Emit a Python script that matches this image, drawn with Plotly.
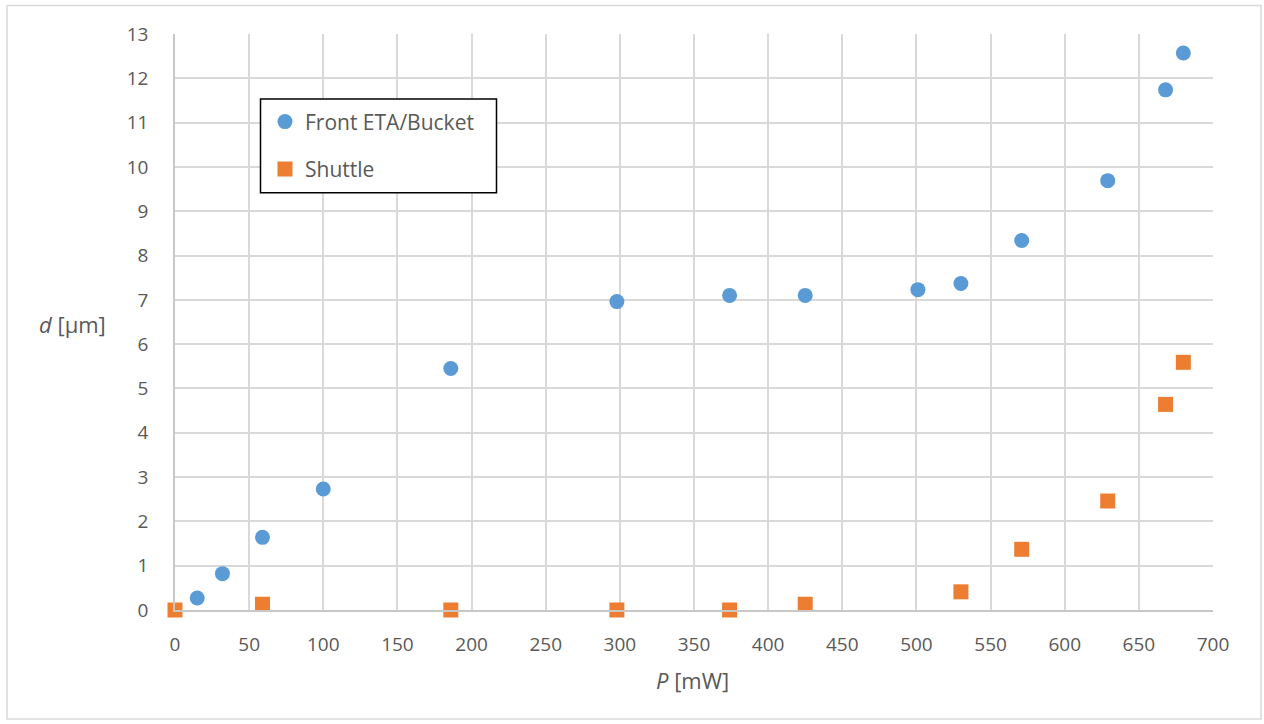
import plotly.graph_objects as go

# Measured displacement vs. laser power
p_front = [15, 32, 59, 100, 186, 298, 374, 425, 501, 530, 571, 629, 668, 680]
d_front = [0.27, 0.82, 1.64, 2.73, 5.45, 6.96, 7.10, 7.10, 7.23, 7.37, 8.34, 9.69, 11.74, 12.57]

p_shuttle = [0, 59, 186, 298, 374, 425, 530, 571, 629, 668, 680]
d_shuttle = [0.0, 0.13, 0.0, 0.0, 0.0, 0.13, 0.41, 1.37, 2.46, 4.64, 5.59]

x_ticks = list(range(0, 701, 50))
y_ticks = list(range(0, 14, 1))

FONT = "Open Sans"
TXT = "#595959"
GRID = "#d9d9d9"
FS = 19      # tick labels
FS_LEG = 21  # legend
FS_TTL = 22  # axis titles

fig = go.Figure()
fig.add_trace(go.Scatter(
    x=p_front, y=d_front, mode="markers", name="Front ETA/Bucket",
    legendgroup="a", cliponaxis=False,
    marker=dict(symbol="circle", size=15, color="#5b9bd5"),
))
fig.add_trace(go.Scatter(
    x=p_shuttle, y=d_shuttle, mode="markers", name="Shuttle",
    legendgroup="b", cliponaxis=False,
    marker=dict(symbol="square", size=15, color="#ed7d31"),
))

W, H = 1264, 724
L, R, T, B = 175, 51, 33.5, 114
pw, ph = W - L - R, H - T - B

def px(x):
    return (x - L) / pw

def py(y):
    return (H - B - y) / ph

fig.update_layout(
    width=W, height=H,
    margin=dict(l=L, r=R, t=T, b=B, pad=0),
    paper_bgcolor="white", plot_bgcolor="white",
    font=dict(family=FONT, color=TXT, size=FS),
    showlegend=True,
    legend=dict(
        x=px(265), y=py(101), xanchor="left", yanchor="top",
        bgcolor="rgba(0,0,0,0)", borderwidth=0,
        font=dict(size=FS_LEG, color=TXT, family=FONT),
        tracegroupgap=17, traceorder="grouped",
        itemwidth=30,
    ),
    xaxis=dict(
        range=[0, 700], tickvals=x_ticks, ticktext=[str(v) for v in x_ticks],
        showgrid=True, gridcolor=GRID, gridwidth=1.5,
        showline=True, linecolor="#c8c8c8", linewidth=1.5,
        zeroline=False, ticks="", ticklabelstandoff=16,
        tickfont=dict(size=FS, color=TXT, family=FONT),
    ),
    yaxis=dict(
        range=[0, 13], tickvals=y_ticks, ticktext=[str(v) for v in y_ticks],
        showgrid=True, gridcolor=GRID, gridwidth=1.5,
        showline=True, linecolor="#c8c8c8", linewidth=1.5,
        zeroline=False, ticks="", ticklabelstandoff=21,
        tickfont=dict(size=FS, color=TXT, family=FONT),
    ),
    annotations=[
        dict(text="<i>P</i> [mW]", x=px(692), y=py(680), xref="paper", yref="paper",
             showarrow=False, xanchor="center", yanchor="middle",
             font=dict(size=FS_TTL, color=TXT, family=FONT)),
        dict(text="<i>d</i> [µm]", x=px(72), y=py(324), xref="paper", yref="paper",
             showarrow=False, xanchor="center", yanchor="middle",
             font=dict(size=FS_TTL, color=TXT, family=FONT)),
    ],
    shapes=[
        # outer chart frame
        dict(type="rect", xref="paper", yref="paper",
             x0=px(7), x1=px(1261), y0=py(719), y1=py(5),
             line=dict(color=GRID, width=1.5), fillcolor="rgba(0,0,0,0)", layer="below"),
        # legend box
        dict(type="rect", xref="paper", yref="paper",
             x0=px(260.5), x1=px(496.5), y0=py(192.5), y1=py(98.5),
             line=dict(color="black", width=1.5), fillcolor="white", layer="above"),
    ],
)

fig.write_html("out.html")
